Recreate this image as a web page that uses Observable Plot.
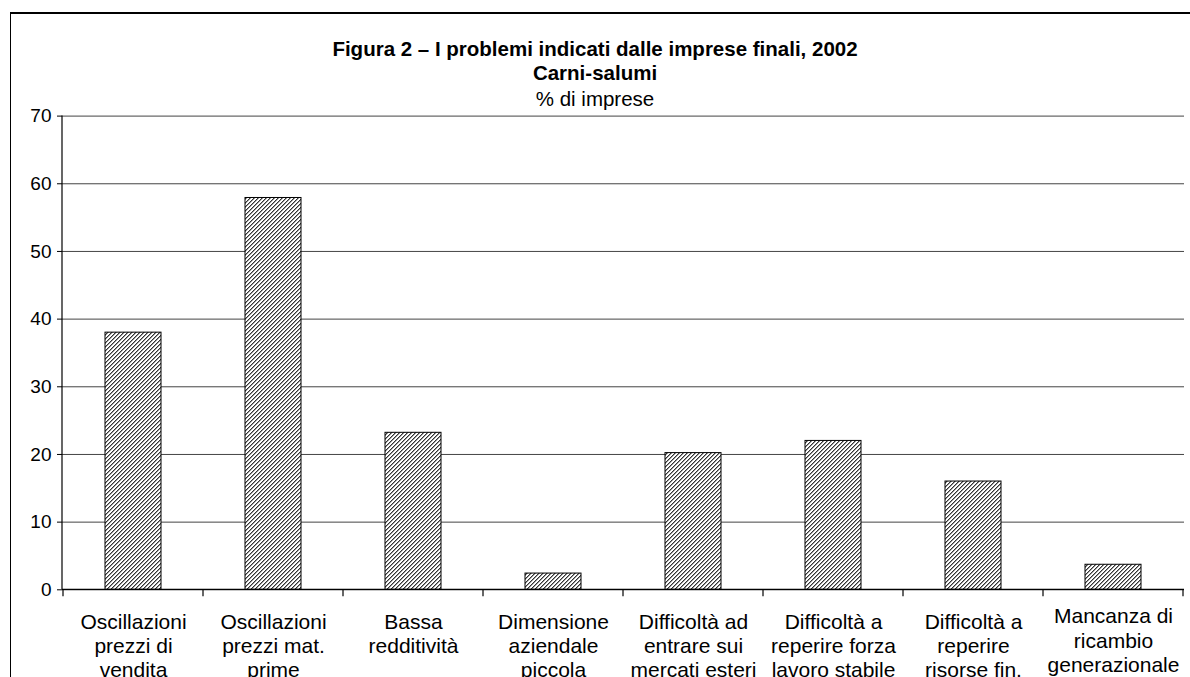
<!DOCTYPE html>
<html>
<head>
<meta charset="utf-8">
<script src="https://cdn.jsdelivr.net/npm/d3@7"></script>
<script src="https://cdn.jsdelivr.net/npm/@observablehq/plot@0.6"></script>
<style>
  html, body { margin: 0; padding: 0; background: #fff; width: 1190px; height: 677px; overflow: hidden; }
  body { position: relative; font-family: "Liberation Sans", Arial, sans-serif; color: #000; }
  #frame { position: absolute; left: 10px; top: 12px; width: 1300px; height: 800px; border-top: 2px solid #000; border-left: 1.5px solid #000; }
  .tl { position: absolute; left: 0; width: 1190px; text-align: center; white-space: nowrap; line-height: 24px; font-size: 20.5px; }
  #t1 { top: 37px; font-weight: bold; }
  #t2 { top: 61px; font-weight: bold; }
  #t3 { top: 87px; font-weight: normal; }
  #chart { position: absolute; left: 0; top: 100px; }
</style>
</head>
<body>
<div id="frame"></div>
<div class="tl" id="t1">Figura 2 – I problemi indicati dalle imprese finali, 2002</div>
<div class="tl" id="t2">Carni-salumi</div>
<div class="tl" id="t3">% di imprese</div>
<div id="chart"></div>
<script>
const categories = [
  "Oscillazioni prezzi di vendita",
  "Oscillazioni prezzi mat. prime",
  "Bassa redditività",
  "Dimensione aziendale piccola",
  "Difficoltà ad entrare sui mercati esteri",
  "Difficoltà a reperire forza lavoro stabile",
  "Difficoltà a reperire risorse fin.",
  "Mancanza di ricambio generazionale"
];
const tickLabels = [
  "Oscillazioni\nprezzi di\nvendita",
  "Oscillazioni\nprezzi mat.\nprime",
  "Bassa\nredditività",
  "Dimensione\naziendale\npiccola",
  "Difficoltà ad\nentrare sui\nmercati esteri",
  "Difficoltà a\nreperire forza\nlavoro stabile",
  "Difficoltà a\nreperire\nrisorse fin.",
  "Mancanza di\nricambio\ngenerazionale"
];
const values = [38.0, 57.9, 23.2, 2.4, 20.2, 22.0, 16.0, 3.7];
const yTicks = [0, 10, 20, 30, 40, 50, 60, 70];

const data = categories.map((c, i) => ({cat: c, value: values[i], label: tickLabels[i]}));
const lastCat = categories[categories.length - 1];

function axisLines(index, scales, values, dims) {
  const x = scales.x, y = scales.y;
  const step = x(categories[1]) - x(categories[0]);
  const half = step * 0.3;
  const bw = step * 0.4;
  const y0 = y(0);
  const g = d3.create("svg:g").attr("stroke", "#000").attr("fill", "none").attr("stroke-width", 1.2);
  g.append("line").attr("x1", dims.marginLeft).attr("x2", dims.marginLeft)
    .attr("y1", y(70)).attr("y2", y0);
  g.append("line").attr("x1", dims.marginLeft).attr("x2", dims.width - dims.marginRight)
    .attr("y1", y0).attr("y2", y0);
  const xs = categories.map(c => x(c) - half);
  xs.push(x(lastCat) + bw + half);
  for (const xx of xs) {
    g.append("line").attr("x1", xx).attr("x2", xx).attr("y1", y0).attr("y2", y0 + 7);
  }
  return g.node();
}

const svg = Plot.plot({
  width: 1190,
  height: 600,
  marginLeft: 62,
  marginRight: 6,
  marginTop: 15.6,
  marginBottom: 110.7,
  style: {fontFamily: "Liberation Sans, Arial, sans-serif", fontSize: "19px", color: "#000", background: "transparent"},
  x: {domain: categories, paddingInner: 0.6, paddingOuter: 0.3, axis: null},
  y: {domain: [0, 70], ticks: yTicks, tickSize: 5, tickPadding: 6, label: null},
  marks: [
    Plot.gridY(yTicks, {stroke: "#444", strokeOpacity: 1, strokeWidth: 1}),
    Plot.barY(data, {x: "cat", y: "value", fill: "url(#hatch)", stroke: "#000", strokeWidth: 1}),
    axisLines,
    Plot.text(data, {filter: d => d.cat !== lastCat, x: "cat", y: () => 0, text: "label", fontSize: 21, lineHeight: 1.15, lineAnchor: "top", dy: 22, fill: "#000"}),
    Plot.text(data, {filter: d => d.cat === lastCat, x: "cat", y: () => 0, text: "label", fontSize: 21, lineHeight: 1.17, lineAnchor: "top", dy: 16, fill: "#000"})
  ]
});

const defs = d3.select(svg).insert("defs", ":first-child");
const pat = defs.append("pattern").attr("id", "hatch").attr("patternUnits", "userSpaceOnUse")
  .attr("width", 4).attr("height", 4);
pat.append("rect").attr("width", 4).attr("height", 4).attr("fill", "#fff");
const darkPixels = [[0,3],[1,2],[2,1],[3,0]];
const midPixels = [[1,3],[2,2],[3,1],[0,0]];
for (const [px, py] of darkPixels) {
  pat.append("rect").attr("x", px).attr("y", py).attr("width", 1).attr("height", 1)
    .attr("fill", "#333").attr("shape-rendering", "crispEdges");
}
for (const [px, py] of midPixels) {
  pat.append("rect").attr("x", px).attr("y", py).attr("width", 1).attr("height", 1)
    .attr("fill", "#999").attr("shape-rendering", "crispEdges");
}

document.getElementById("chart").appendChild(svg);
</script>
</body>
</html>
